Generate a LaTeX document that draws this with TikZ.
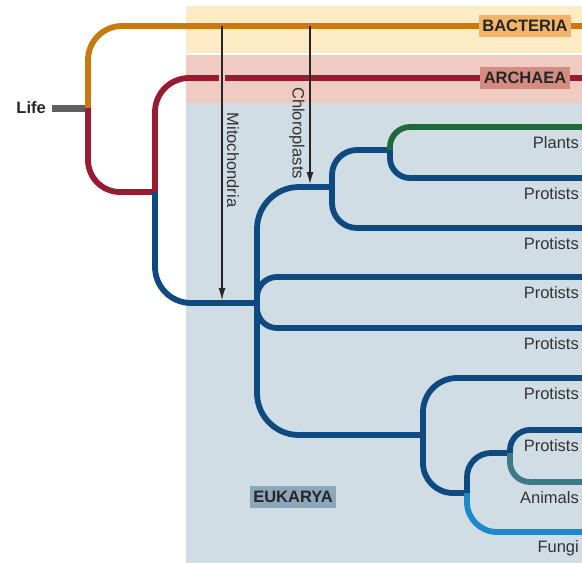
\documentclass[tikz,border=0pt]{standalone}
\usepackage{fontspec}
\setmainfont{Liberation Sans}
\usepackage{xcolor}
\usepackage{tikz}
\usetikzlibrary{arrows.meta}

\definecolor{bacbg}{HTML}{FCEBC4}
\definecolor{arcbg}{HTML}{F0CBC1}
\definecolor{eukbg}{HTML}{D0DDE5}
\definecolor{bacline}{HTML}{C8790F}
\definecolor{arcline}{HTML}{9A1A31}
\definecolor{eukline}{HTML}{0E4A80}
\definecolor{plantline}{HTML}{1D6B3A}
\definecolor{animline}{HTML}{3C7A8A}
\definecolor{fungline}{HTML}{1E88CC}
\definecolor{lifeline}{HTML}{5F5F5F}
\definecolor{bacbox}{HTML}{F2B36A}
\definecolor{arcbox}{HTML}{D38C80}
\definecolor{eukbox}{HTML}{8CA6BC}

\begin{document}
\begin{tikzpicture}[
    x=1pt, y=-1pt,
    every node/.style={font=\fontsize{16.5}{18}\selectfont},
    branch/.style={line width=5.8pt, line join=round},
    domainbox/.style={font=\fontsize{16.5}{18}\selectfont\bfseries, inner xsep=3.5pt, inner ysep=5pt, text=black!85},
    taxon/.style={anchor=east, inner sep=0pt, text=black!80},
    transfer/.style={draw=black!85, line width=1.1pt, -{Latex[length=12pt, width=7pt]}}
]
\useasboundingbox (0,0) rectangle (582,563);

% domain bands
\fill[bacbg] (186,6) rectangle (582,53);
\fill[arcbg] (186,55) rectangle (582,103);
\fill[eukbg] (186,103) rectangle (582,563);

% branch points
\coordinate (lifeS) at (52,108);
\coordinate (life) at (88,108);
\coordinate (arcJ) at (155,192);
\coordinate (eukJ) at (257,303);
\coordinate (plJ) at (332,187);
\coordinate (grJ) at (390,150);
\coordinate (lowJ) at (423,435);
\coordinate (opJ) at (467,493);
\coordinate (anJ) at (510,453);

% tips
\coordinate (bac) at (582,26);
\coordinate (arc) at (582,78);
\foreach \nm/\yy in {plants/127, pa/178, pb/228, pc/277, pd/328, pe/378, pf/430, animals/482, fungi/532}
    \coordinate (\nm) at (582,\yy);

\draw[lifeline, line width=7pt] (lifeS) -- (life);
\node[font=\fontsize{16.5}{18}\selectfont\bfseries, text=black!85, anchor=east, inner sep=6pt] (lifelbl) at (lifeS) {Life};

\draw[branch, bacline, rounded corners=34pt] (life) |- (bac);
\draw[branch, arcline, rounded corners=32pt] (life) |- (arcJ);
\draw[branch, arcline, rounded corners=34pt] (arcJ) |- (arc);

\draw[branch, eukline, rounded corners=36pt] (arcJ) |- (eukJ);
\draw[branch, eukline, rounded corners=42pt] (eukJ) |- (plJ);
\draw[branch, eukline, rounded corners=20pt] (eukJ) |- (pc);
\draw[branch, eukline, rounded corners=20pt] (eukJ) |- (pd);
\draw[branch, eukline, rounded corners=42pt] (eukJ) |- (lowJ);

\draw[branch, eukline, rounded corners=25pt] (plJ) |- (grJ);
\draw[branch, eukline, rounded corners=25pt] (plJ) |- (pb);
\draw[branch, plantline, rounded corners=20pt] (grJ) |- (plants);
\draw[branch, eukline, rounded corners=20pt] (grJ) |- (pa);

\draw[branch, eukline, rounded corners=34pt] (lowJ) |- (pe);
\draw[branch, eukline, rounded corners=30pt] (lowJ) |- (opJ);
\draw[branch, eukline, rounded corners=24pt] (opJ) |- (anJ);
\draw[branch, eukline, rounded corners=20pt] (anJ) |- (pf);
\draw[branch, animline, rounded corners=20pt] (anJ) |- (animals);
\draw[branch, fungline, rounded corners=30pt] (opJ) |- (fungi);

% domain labels
\node[domainbox, fill=bacbox] (baclbl) at (525,26) {BACTERIA};
\node[domainbox, fill=arcbox] (arclbl) at (525,78) {ARCHAEA};
\node[domainbox, fill=eukbox] (euklbl) at (293,497) {EUKARYA};

% taxa
\foreach \nm/\txt in {plants/Plants, pa/Protists, pb/Protists, pc/Protists, pd/Protists, pe/Protists, pf/Protists, animals/Animals, fungi/Fungi}
    \node[taxon] (\nm-lbl) at ([xshift=-3pt, yshift=-16pt]\nm) {\txt};

% endosymbiosis arrows
\coordinate (mitoS) at (222,26);
\coordinate (mitoE) at (222,300);
\coordinate (chloS) at (310,26);
\coordinate (chloE) at (310,184);
\fill[arcbg] (219.3,73) rectangle (224.7,83);
\draw[transfer] (mitoS) -- (mitoE);
\draw[transfer] (chloS) -- (chloE);
\node[rotate=-90, text=black!80, inner sep=0pt] (mitolbl) at (233,160) {Mitochondria};
\node[rotate=-90, text=black!80, inner sep=0pt] (chlolbl) at (297,133) {Chloroplasts};

\end{tikzpicture}
\end{document}
